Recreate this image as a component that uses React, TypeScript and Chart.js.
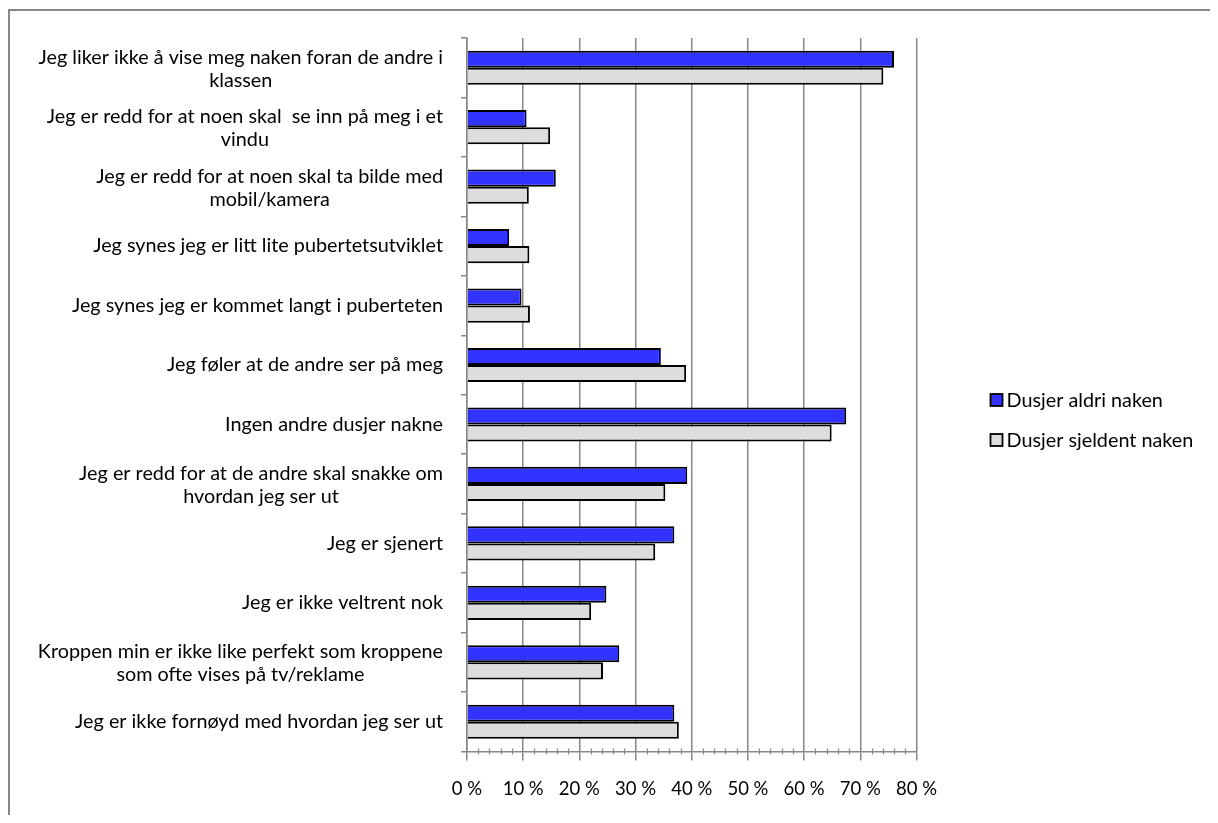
import React, { useEffect, useRef } from "react";
import { Chart, registerables } from "chart.js";

Chart.register(...registerables);

const categories: string[][] = [
  ["Jeg liker ikke å vise meg naken foran de andre i", "klassen"],
  ["Jeg er redd for at noen skal  se inn på meg i et", "vindu"],
  ["Jeg er redd for at noen skal ta bilde med", "mobil/kamera"],
  ["Jeg synes jeg er litt lite pubertetsutviklet"],
  ["Jeg synes jeg er kommet langt i puberteten"],
  ["Jeg føler at de andre ser på meg"],
  ["Ingen andre dusjer nakne"],
  ["Jeg er redd for at de andre skal snakke om", "hvordan jeg ser ut"],
  ["Jeg er sjenert"],
  ["Jeg er ikke veltrent nok"],
  ["Kroppen min er ikke like perfekt som kroppene", "som ofte vises på tv/reklame"],
  ["Jeg er ikke fornøyd med hvordan jeg ser ut"],
];

const aldriNaken: number[] = [76.0, 10.6, 15.8, 7.5, 9.7, 34.5, 67.5, 39.2, 36.9, 24.8, 27.1, 36.9];
const sjeldentNaken: number[] = [74.1, 14.8, 11.0, 11.1, 11.2, 39.0, 64.9, 35.3, 33.5, 22.1, 24.2, 37.7];

const seriesNames: string[] = ["Dusjer aldri naken", "Dusjer sjeldent naken"];
const seriesColors: string[] = ["#3333FF", "#DDDDDD"];

const xTickValues: number[] = [0, 10, 20, 30, 40, 50, 60, 70, 80];

const FONT = "Lato, 'Open Sans', sans-serif";
const FONT_SIZE = 19.8;
const AXIS_GRAY = "#878787";

// Category labels: block right-aligned next to the axis, lines centred within the block.
const categoryLabelPlugin = {
  id: "categoryLabels",
  afterDraw(chart: any) {
    const { ctx, chartArea } = chart;
    const yScale = chart.scales.y;
    ctx.save();
    ctx.font = `${FONT_SIZE}px ${FONT}`;
    ctx.fillStyle = "#000";
    ctx.textAlign = "center";
    ctx.textBaseline = "middle";
    const rightEdge = chartArea.left - 24;
    const lineHeight = 23;
    categories.forEach((lines, i) => {
      const y = yScale.getPixelForTick(i) + (lines.length > 1 ? 1 : 0);
      const maxW = Math.max(...lines.map((l) => ctx.measureText(l).width));
      const cx = rightEdge - maxW / 2;
      lines.forEach((l, j) => {
        const ly = y + (j - (lines.length - 1) / 2) * lineHeight;
        ctx.fillText(l, cx, ly);
      });
    });
    ctx.restore();
  },
};

// Minor tick marks every 2 % along the value axis.
const minorTickPlugin = {
  id: "minorTicks",
  afterDraw(chart: any) {
    const { ctx, chartArea } = chart;
    const xScale = chart.scales.x;
    ctx.save();
    ctx.strokeStyle = AXIS_GRAY;
    ctx.lineWidth = 1.2;
    for (let v = 2; v < 80; v += 2) {
      if (v % 10 === 0) continue;
      const x = Math.round(xScale.getPixelForValue(v)) + 0.5;
      ctx.beginPath();
      ctx.moveTo(x, chartArea.bottom - 3);
      ctx.lineTo(x, chartArea.bottom + 3);
      ctx.stroke();
    }
    ctx.restore();
  },
};

// Legend to the right of the plot, square swatches with a dark outline.
const sideLegendPlugin = {
  id: "sideLegend",
  afterDraw(chart: any) {
    const { ctx, chartArea } = chart;
    ctx.save();
    ctx.font = `${FONT_SIZE}px ${FONT}`;
    ctx.textBaseline = "middle";
    ctx.textAlign = "left";
    const boxX = chartArea.right + 74;
    const startY = chartArea.top + 362;
    chart.data.datasets.forEach((ds: any, i: number) => {
      const cy = startY + i * 40;
      ctx.fillStyle = ds.backgroundColor;
      ctx.fillRect(boxX, cy - 6, 12, 12);
      ctx.strokeStyle = "#000";
      ctx.lineWidth = 1.8;
      ctx.strokeRect(boxX, cy - 6, 12, 12);
      ctx.fillStyle = "#000";
      ctx.fillText(ds.label, boxX + 16, cy + 1);
    });
    ctx.restore();
  },
};

export default function App() {
  const canvasRef = useRef<HTMLCanvasElement | null>(null);

  useEffect(() => {
    if (!canvasRef.current) return;
    const chart = new Chart(canvasRef.current, {
      type: "bar",
      data: {
        labels: categories.map((c) => c.join(" ")),
        datasets: [
          {
            label: seriesNames[0],
            data: aldriNaken,
            backgroundColor: seriesColors[0],
            borderColor: "#000",
            borderWidth: 2,
            categoryPercentage: 0.575,
            barPercentage: 1,
          },
          {
            label: seriesNames[1],
            data: sjeldentNaken,
            backgroundColor: seriesColors[1],
            borderColor: "#000",
            borderWidth: 2,
            categoryPercentage: 0.575,
            barPercentage: 1,
          },
        ],
      },
      options: {
        indexAxis: "y",
        animation: false,
        responsive: false,
        layout: { padding: { top: 27, right: 293.5, left: 0, bottom: 0 } },
        plugins: {
          legend: { display: false },
          tooltip: { enabled: false },
        },
        scales: {
          x: {
            min: 0,
            max: 80,
            afterFit: (scale: any) => {
              scale.height = 63.5;
            },
            afterBuildTicks: (scale: any) => {
              scale.ticks = xTickValues.map((v) => ({ value: v }));
            },
            ticks: {
              callback: (v: any) => `${v} %`,
              color: "#000",
              font: { family: FONT, size: 18.5 },
              padding: 17,
              maxRotation: 0,
            },
            grid: {
              color: AXIS_GRAY,
              lineWidth: 1.5,
              tickLength: 9,
              drawTicks: true,
            },
            border: { display: true, color: AXIS_GRAY, width: 1.5 },
          },
          y: {
            type: "category",
            offset: true,
            afterFit: (scale: any) => {
              scale.width = 457;
            },
            ticks: { display: false },
            grid: {
              offset: true,
              drawOnChartArea: false,
              color: AXIS_GRAY,
              lineWidth: 1.5,
              tickLength: 6,
            },
            border: { display: true, color: AXIS_GRAY, width: 1.5 },
          },
        },
      },
      plugins: [categoryLabelPlugin, minorTickPlugin, sideLegendPlugin],
    } as any);
    return () => chart.destroy();
  }, []);

  return (
    <div style={{ paddingTop: 1 }}>
      <div
        style={{
          borderLeft: `2px solid ${AXIS_GRAY}`,
          borderTop: `2px solid ${AXIS_GRAY}`,
          width: 1200,
          height: 804,
        }}
      >
        <canvas ref={canvasRef} width={1200} height={804} style={{ display: "block" }} />
      </div>
    </div>
  );
}
